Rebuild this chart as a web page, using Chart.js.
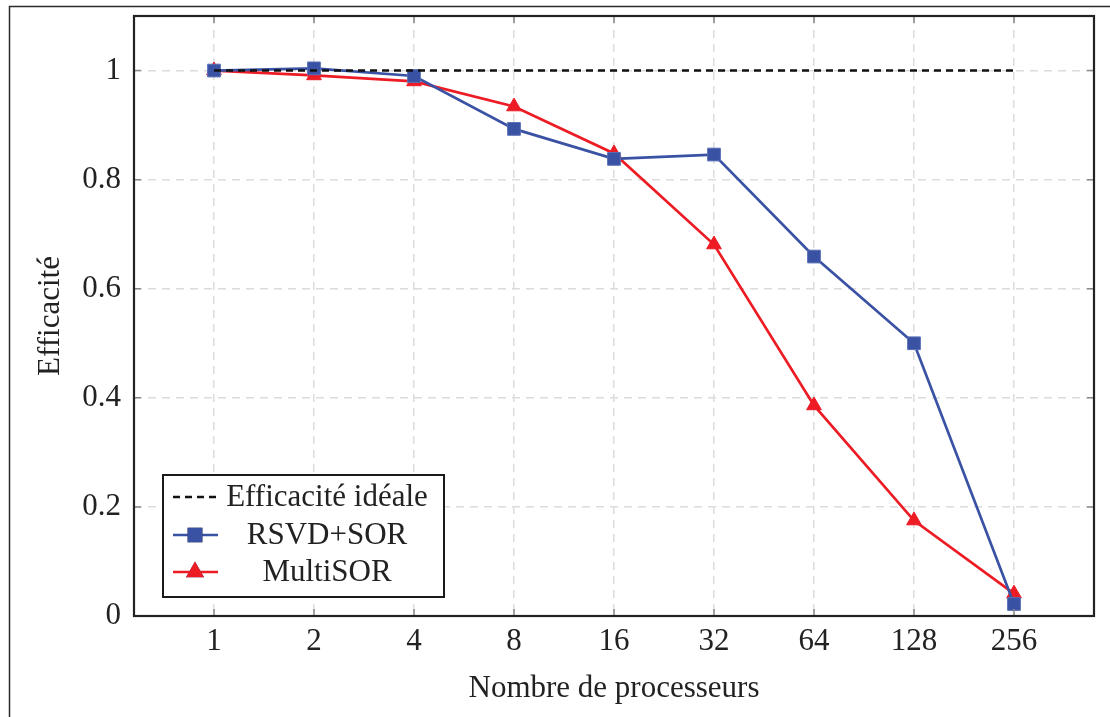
<!DOCTYPE html>
<html>
<head>
<meta charset="utf-8">
<title>Efficacité</title>
<script src="https://cdn.jsdelivr.net/npm/chart.js@4"></script>
<style>
  html, body { margin: 0; padding: 0; background: #fff; }
  #wrap { width: 1110px; height: 717px; position: relative; }
</style>
</head>
<body>
<div id="wrap"><canvas id="chart" width="1110" height="717"></canvas></div>
<script>
// Données
const processeurs = ['1', '2', '4', '8', '16', '32', '64', '128', '256'];
const efficaciteIdeale = [1, 1, 1, 1, 1, 1, 1, 1, 1];
const rsvdSor = [1.0, 1.004, 0.99, 0.893, 0.838, 0.846, 0.659, 0.50, 0.022];
const multiSor = [1.0, 0.991, 0.98, 0.934, 0.848, 0.681, 0.386, 0.175, 0.041];
const yTicks = [0, 0.2, 0.4, 0.6, 0.8, 1];

const BLEU = '#3a52a4';
const ROUGE = '#ed1c24';
const TEXTE = '#222222';
const POLICE = '"Liberation Serif", "Times New Roman", serif';

const toPoints = arr => arr.map((v, i) => ({ x: i, y: v }));

// Cadre, petites graduations, bordure de page et légende
const cadrePlugin = {
    id: 'cadre',
    beforeDraw(chart) {
        const ctx = chart.ctx;
        ctx.save();
        ctx.strokeStyle = '#2b2b2b';
        ctx.lineWidth = 1.5;
        ctx.beginPath();
        ctx.moveTo(9.5, 717);
        ctx.lineTo(9.5, 6.5);
        ctx.lineTo(1110, 6.5);
        ctx.stroke();
        ctx.restore();
    },
    afterDraw(chart) {
        const { ctx, chartArea: a, scales } = chart;
        ctx.save();
        // graduations internes
        ctx.strokeStyle = '#8a8a8a';
        ctx.lineWidth = 1.5;
        ctx.beginPath();
        scales.x.ticks.forEach(t => {
            const px = scales.x.getPixelForValue(t.value);
            ctx.moveTo(px, a.bottom); ctx.lineTo(px, a.bottom - 7);
            ctx.moveTo(px, a.top); ctx.lineTo(px, a.top + 7);
        });
        scales.y.ticks.forEach(t => {
            const py = scales.y.getPixelForValue(t.value);
            ctx.moveTo(a.left, py); ctx.lineTo(a.left + 7, py);
            ctx.moveTo(a.right, py); ctx.lineTo(a.right - 7, py);
        });
        ctx.stroke();
        // cadre
        ctx.strokeStyle = '#222';
        ctx.lineWidth = 2.2;
        ctx.strokeRect(a.left, a.top, a.right - a.left, a.bottom - a.top);

        // légende
        const lx = 163, ly = 475, lw = 281, lh = 122;
        ctx.fillStyle = '#fff';
        ctx.fillRect(lx, ly, lw, lh);
        ctx.strokeStyle = '#1a1a1a';
        ctx.lineWidth = 2;
        ctx.strokeRect(lx, ly, lw, lh);
        const rows = [497, 535, 572];
        chart.data.datasets.forEach((ds, i) => {
            const y = rows[i];
            ctx.save();
            ctx.strokeStyle = ds.borderColor;
            ctx.lineWidth = ds.borderWidth;
            ctx.setLineDash(ds.borderDash || []);
            ctx.beginPath();
            ctx.moveTo(173, y); ctx.lineTo(218, y);
            ctx.stroke();
            ctx.restore();
            if (ds.pointRadius > 0) {
                Chart.helpers.drawPoint(ctx, {
                    pointStyle: ds.pointStyle,
                    radius: ds.pointRadius,
                    borderWidth: 1,
                    rotation: 0
                }, 195, y);
                ctx.fillStyle = ds.borderColor;
                ctx.strokeStyle = ds.borderColor;
                ctx.fill();
                ctx.stroke();
            }
            ctx.fillStyle = TEXTE;
            ctx.font = '31px ' + POLICE;
            ctx.textAlign = 'center';
            ctx.textBaseline = 'middle';
            ctx.fillText(ds.label, 327, y + 1);
        });
        ctx.restore();
    }
};

new Chart(document.getElementById('chart'), {
    type: 'line',
    data: {
        datasets: [
            {
                label: 'Efficacité idéale',
                data: toPoints(efficaciteIdeale),
                borderColor: '#111111',
                backgroundColor: '#111111',
                borderWidth: 2.5,
                borderDash: [7, 5],
                pointRadius: 0
            },
            {
                label: 'RSVD+SOR',
                data: toPoints(rsvdSor),
                borderColor: BLEU,
                backgroundColor: BLEU,
                borderWidth: 2.7,
                pointStyle: 'rect',
                pointRadius: 9,
                pointBorderWidth: 1,
                pointBorderColor: '#5a6fb5'
            },
            {
                label: 'MultiSOR',
                data: toPoints(multiSor),
                borderColor: ROUGE,
                backgroundColor: ROUGE,
                borderWidth: 2.7,
                pointStyle: 'triangle',
                pointRadius: 8.5,
                pointBorderWidth: 1,
                pointBorderColor: ROUGE
            }
        ]
    },
    options: {
        responsive: false,
        animation: false,
        layout: { padding: { left: 0, top: 16, right: 16, bottom: 0 } },
        plugins: {
            legend: { display: false },
            tooltip: { enabled: false }
        },
        scales: {
            x: {
                type: 'linear',
                min: -0.8,
                max: 8.8,
                afterBuildTicks: scale => { scale.ticks = processeurs.map((p, i) => ({ value: i })); },
                afterFit: scale => {
                    scale.height = 101;
                    scale.paddingLeft = 0;
                    scale.paddingRight = 0;
                },
                grid: { color: '#dcdcdc', lineWidth: 1.5, drawTicks: false },
                border: { display: false, dash: [8, 6] },
                ticks: {
                    color: TEXTE,
                    font: { family: POLICE, size: 31 },
                    padding: 7,
                    maxRotation: 0,
                    callback: v => processeurs[v]
                },
                title: {
                    display: true,
                    text: 'Nombre de processeurs',
                    color: TEXTE,
                    font: { family: POLICE, size: 31 },
                    padding: { top: 0, bottom: 10 }
                }
            },
            y: {
                min: 0,
                max: 1.1,
                afterBuildTicks: scale => { scale.ticks = yTicks.map(v => ({ value: v })); },
                afterFit: scale => {
                    scale.width = 134;
                    scale.paddingTop = 0;
                    scale.paddingBottom = 0;
                },
                grid: { color: '#dcdcdc', lineWidth: 1.5, drawTicks: false },
                border: { display: false, dash: [8, 6] },
                ticks: {
                    color: TEXTE,
                    font: { family: POLICE, size: 31 },
                    padding: 13,
                    callback: v => String(+v.toFixed(1))
                },
                title: {
                    display: true,
                    text: 'Efficacité',
                    color: TEXTE,
                    font: { family: POLICE, size: 31 },
                    padding: { top: 32, bottom: 0 }
                }
            }
        }
    },
    plugins: [cadrePlugin]
});
</script>
</body>
</html>
